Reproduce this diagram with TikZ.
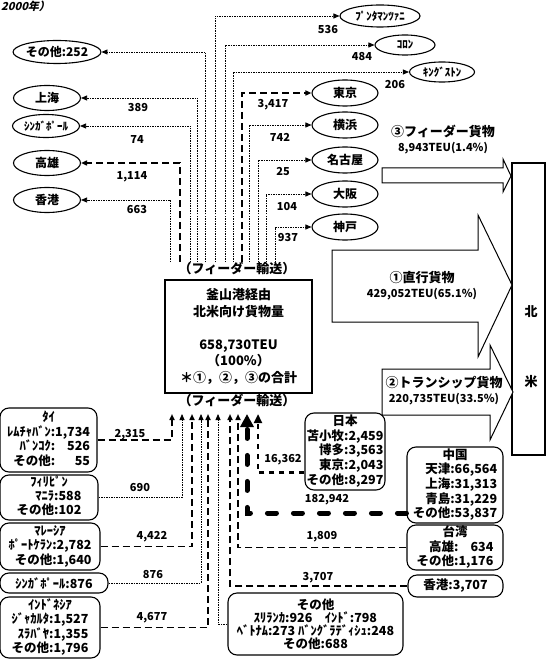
\documentclass[tikz,border=0pt]{standalone}
\usepackage{fontspec}
\setmainfont{Noto Sans CJK JP}
\newfontfamily\slantjp{Noto Sans CJK JP}[FakeSlant=0.25]
\usepackage{tikz}
\usetikzlibrary{arrows.meta, shapes.geometric}
\newcommand{\fsz}[2]{\fontsize{#1}{#2}\selectfont}
\tikzset{
	% ports drawn as ellipses
	port/.style={ellipse, draw, line width=1.1pt, inner sep=0pt,
		minimum width=67pt, minimum height=25pt, font=\bfseries\fsz{12}{14}},
	% country boxes with round corners
	area/.style={draw, rounded corners=9pt, line width=1.1pt, inner sep=0pt,
		align=center, font=\bfseries\fsz{12.5}{13}},
	num/.style={inner sep=0pt, font=\bfseries\fsz{11}{12}},
	title/.style={inner sep=0pt, align=center, font=\bfseries\fsz{13}{15}},
	% connector kinds
	tip/.style={-{Triangle[length=6pt, width=5pt]}},
	fine/.style={tip, dash pattern=on 1.5pt off 1pt, line width=0.8pt},
	heavy/.style={tip, dash pattern=on 7pt off 4pt, line width=1.5pt},
	japan/.style={-{Triangle[length=9pt, width=8pt]}, dash pattern=on 5pt off 5pt, line width=2.8pt},
	china/.style={-{Triangle[length=13pt, width=13pt]}, dash pattern=on 9pt off 17pt, line width=5pt, line cap=round},
	bigarrow/.style={draw, line width=1pt, fill=white, line join=miter},
}

\begin{document}
\begin{tikzpicture}[x=1pt, y=-1pt]
	\useasboundingbox (0,0) rectangle (549,660);
	\node[anchor=north west, inner sep=0pt, font=\slantjp\bfseries\fsz{11}{13}] (year) at (1,1) {2000年）};

	% ports on the left
	\node[port, minimum width=87pt, minimum height=23pt] (etc) at (57,52) {その他:252};
	\node[port] (sha) at (47,98) {上海};
	\node[port, minimum height=23pt, font=\bfseries\fsz{11}{13}] (sin) at (46,126) {ｼﾝｶﾞﾎﾟｰﾙ};
	\node[port] (kao) at (47,163) {高雄};
	\node[port] (hkg) at (47,200) {香港};

	% ports on the right
	\node[port, minimum width=80pt, minimum height=22pt, font=\bfseries\fsz{11}{13}] (pun) at (380,16) {ﾌﾟﾝﾀﾏﾝﾂｧﾆ};
	\node[port, minimum width=60pt, minimum height=20pt, font=\bfseries\fsz{11}{13}] (col) at (405,45) {ｺﾛﾝ};
	\node[port, minimum width=65pt, minimum height=20pt, font=\bfseries\fsz{11}{13}] (kin) at (442,72) {ｷﾝｸﾞｽﾄﾝ};
	\node[port, minimum width=66pt, minimum height=26pt] (tok) at (345,93) {東京};
	\node[port, minimum width=66pt, minimum height=26pt] (yok) at (345,125) {横浜};
	\node[port, minimum width=66pt, minimum height=26pt] (nag) at (345,160) {名古屋};
	\node[port, minimum width=66pt, minimum height=26pt] (osa) at (345,194) {大阪};
	\node[port, minimum width=66pt, minimum height=26pt] (kob) at (345,227) {神戸};

	% Busan total
	\node[title] (feedup) at (237,268) {（フィーダー輸送）};
	\node[draw, line width=1.2pt, minimum width=147pt, minimum height=113pt, inner sep=0pt,
		align=center, font=\bfseries\fsz{13}{16.5}] (busan) at (238.5,336.5)
		{釜山港経由\\北米向け貨物量\\[16.5pt]658,730TEU\\（100\%）\\＊①，②，③の合計};
	\node[title] (feeddn) at (237,400) {（フィーダー輸送）};

	% feeder lines out of Busan
	\foreach \px/\pn in {205/etc, 197/sha, 190/sin, 170/hkg}{
		\coordinate (o\pn) at (\px,262);
		\draw[fine] (o\pn) |- (\pn.east);
	}
	\coordinate (okao) at (180,262);
	\draw[heavy] (okao) |- (kao.east);
	\foreach \px/\pn in {215/pun, 225/col, 233/kin, 249/yok, 258/nag, 266/osa, 275/kob}{
		\coordinate (o\pn) at (\px,262);
		\draw[fine] (o\pn) |- (\pn.west);
	}
	\coordinate (otok) at (242,262);
	\draw[heavy] (otok) |- (tok.west);

	\node[num] (n389) at (138,108) {389};
	\node[num] (n74) at (137,140) {74};
	\node[num] (n1114) at (132,177) {1,114};
	\node[num] (n663) at (137,210) {663};
	\node[num] (n536) at (328,30) {536};
	\node[num] (n484) at (362,57) {484};
	\node[num] (n206) at (395,85) {206};
	\node[num] (n3417) at (273,105) {3,417};
	\node[num] (n742) at (280,137) {742};
	\node[num] (n25) at (283,172) {25};
	\node[num] (n104) at (287,207) {104};
	\node[num] (n937) at (288,238) {937};

	% North America and the three flows
	\node[draw, line width=1.1pt, minimum width=33pt, minimum height=292pt, inner sep=0pt] (na) at (528.5,309) {};
	\node[title] (kita) at (531,312) {北};
	\node[title] (bei) at (531,382) {米};

	\draw[bigarrow] (382,168) -- (503,168) -- (503,159) -- (511,176) -- (503,192) -- (503,183) -- (382,183) -- cycle;
	\draw[bigarrow] (332,250) -- (478,250) -- (478,215) -- (512,285) -- (478,357) -- (478,322) -- (332,322) -- cycle;
	\draw[bigarrow] (382,369) -- (490,369) -- (490,345) -- (513,392) -- (490,440) -- (490,415) -- (382,415) -- cycle;
	\node[title] (feeder) at (443,140) {③フィーダー貨物\\{\fsz{11}{14}8,943TEU(1.4\%)}};
	\node[title] (direct) at (422,286) {①直行貨物\\{\fsz{11}{16}429,052TEU(65.1\%)}};
	\node[title] (trans) at (444,391) {②トランシップ貨物\\{\fsz{11}{16}220,735TEU(33.5\%)}};

	% origin boxes on the left
	\node[area, minimum width=97pt, minimum height=64pt] (thai) at (48.5,440)
		{\begin{tabular}{@{}r@{:}r@{}}\multicolumn{2}{c}{ﾀｲ}\\ﾚﾑﾁｬﾊﾞﾝ&1,734\\ﾊﾞﾝｺｸ&526\\その他&55\end{tabular}};
	\node[area, minimum width=98pt, minimum height=45pt] (phl) at (49,497.5)
		{\begin{tabular}{@{}r@{:}l@{}}\multicolumn{2}{c}{ﾌｨﾘﾋﾟﾝ}\\ﾏﾆﾗ&588\\その他&102\end{tabular}};
	\node[area, minimum width=100pt, minimum height=47pt] (mys) at (50,546.5)
		{\begin{tabular}{@{}r@{:}l@{}}\multicolumn{2}{c}{ﾏﾚｰｼｱ}\\ﾎﾟｰﾄｹﾗﾝ&2,782\\その他&1,640\end{tabular}};
	\node[area, minimum width=108pt, minimum height=20pt] (sgp) at (54,583) {ｼﾝｶﾞﾎﾟｰﾙ:876};
	\node[area, minimum width=100pt, minimum height=61pt] (idn) at (50,627.5)
		{\begin{tabular}{@{}r@{:}l@{}}\multicolumn{2}{c}{ｲﾝﾄﾞﾈｼｱ}\\ｼﾞｬｶﾙﾀ&1,527\\ｽﾗﾊﾞﾔ&1,355\\その他&1,796\end{tabular}};

	% origin boxes on the right
	\node[area, minimum width=80pt, minimum height=77pt] (jpn) at (345,451.5)
		{\begin{tabular}{@{}r@{:}l@{}}\multicolumn{2}{c}{日本}\\苫小牧&2,459\\博多&3,563\\東京&2,043\\その他&8,297\end{tabular}};
	\node[area, minimum width=96pt, minimum height=76pt] (chn) at (455,485)
		{\begin{tabular}{@{}r@{:}l@{}}\multicolumn{2}{c}{中国}\\天津&66,564\\上海&31,313\\青島&31,229\\その他&53,837\end{tabular}};
	\node[area, minimum width=96pt, minimum height=45pt] (twn) at (455,547.5)
		{\begin{tabular}{@{}r@{:}r@{}}\multicolumn{2}{c}{台湾}\\高雄&634\\その他&1,176\end{tabular}};
	\node[area, minimum width=95pt, minimum height=22pt] (hk2) at (455.5,586) {香港:3,707};
	\node[area, minimum width=175pt, minimum height=62pt] (oth) at (315.5,624)
		{その他\\ｽﾘﾗﾝｶ:926\quad ｲﾝﾄﾞ:798\\ﾍﾞﾄﾅﾑ:273 ﾊﾞﾝｸﾞﾗﾃﾞｨｼｭ:248\\その他:688};

	% feeder lines into Busan
	\coordinate (ithai) at (172,414);
	\coordinate (iphl) at (182,414);
	\coordinate (imys) at (192,414);
	\coordinate (isgp) at (201,414);
	\coordinate (iidn) at (208,414);
	\coordinate (ioth) at (218,414);
	\coordinate (ihk2) at (230,414);
	\coordinate (itwn) at (238,414);
	\coordinate (ichn) at (247,414);
	\coordinate (ijpn) at (258,414);
	\draw[heavy] (thai.east) -| (ithai);
	\draw[fine] (phl.east) -| (iphl);
	\draw[heavy] (mys.east) -| (imys);
	\draw[fine] (sgp.east) -| (isgp);
	\draw[heavy] (idn.east) -| (iidn);
	\draw[fine] (oth.west) -| (ioth);
	\draw[heavy] (hk2.west) -| (ihk2);
	\draw[heavy] (twn.west) -| (itwn);
	\draw[china] ([yshift=-28pt]chn.west) -| (ichn);
	\draw[japan] ([yshift=-21pt]jpn.west) -| (ijpn);

	\node[num] (n2315) at (130,435) {2,315};
	\node[num] (n690) at (140,488) {690};
	\node[num] (n4422) at (152,537) {4,422};
	\node[num] (n876) at (153,575) {876};
	\node[num] (n4677) at (152,618) {4,677};
	\node[num] (n16362) at (283,460) {16,362};
	\node[num] (n182942) at (327,500) {182,942};
	\node[num] (n1809) at (322,537) {1,809};
	\node[num] (n3707) at (318,578) {3,707};
\end{tikzpicture}
\end{document}
